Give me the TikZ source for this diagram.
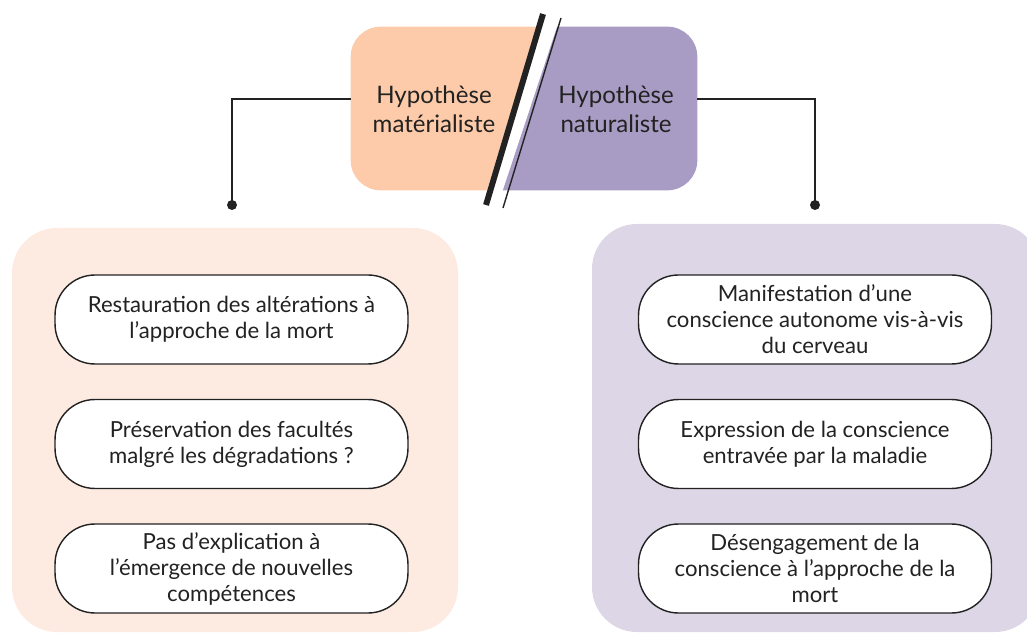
\documentclass[tikz,border=0pt]{standalone}
\usepackage{fontspec}
\setmainfont{Lato}
\usetikzlibrary{positioning}

\definecolor{matorange}{HTML}{FDCBA9}
\definecolor{natpurple}{HTML}{A89CC4}
\definecolor{matlight}{HTML}{FDEBE1}
\definecolor{natlight}{HTML}{DDD6E7}
\definecolor{ink}{HTML}{222222}

\tikzset{
  item/.style={draw=ink, line width=0.8pt, fill=white, rounded corners=0.8cm,
    minimum width=7.06cm, minimum height=1.78cm, align=center, text=ink,
    font=\fontsize{12.6}{14.8}\selectfont},
  head/.style={align=center, text=ink, font=\fontsize{13.7}{16.5}\selectfont},
  dot/.style={circle, fill=ink, inner sep=0pt, minimum size=0.2cm},
  link/.style={draw=ink, line width=1.1pt}
}

\begin{document}
\begin{tikzpicture}[x=0.02cm,y=-0.02cm]
\useasboundingbox (0,0) rectangle (1027,634);
% panels
\fill[matlight, rounded corners=0.9cm] (12,228) rectangle (458,632);
\fill[natlight, rounded corners=0.9cm] (592,224) rectangle (1040,632);
% header box
\node[minimum width=6.92cm, minimum height=3.26cm] (hyp) at (524,108.5) {};
\begin{scope}
  \clip (300,0) -- (545,0) -- (478,220) -- (300,220) -- cycle;
  \fill[matorange, rounded corners=0.6cm] (hyp.north west) rectangle (hyp.south east);
\end{scope}
\begin{scope}
  \clip (566,0) -- (750,0) -- (750,220) -- (493,220) -- cycle;
  \fill[natpurple, rounded corners=0.6cm] (hyp.north west) rectangle (hyp.south east);
\end{scope}
\draw[ink, line width=3.4pt] (543,14) -- (486,205);
\draw[ink, line width=0.8pt] (561,18) -- (503,208);
\node[head] (mat) at (434,109) {Hypothèse\\matérialiste};
\node[head] (nat) at (616,109) {Hypothèse\\naturaliste};
% connectors
\node[dot] (dotL) at (232,205) {};
\node[dot] (dotR) at (815,205) {};
\draw[link] ([yshift=0.19cm]hyp.west) -| (dotL.center);
\draw[link] ([yshift=0.19cm]hyp.east) -| (dotR.center);
% left column
\node[item] (m1) at (231.5,319.5) {Restauration des altérations à\\l’approche de la mort};
\node[item] (m2) at (231.5,444) {Préservation des facultés\\malgré les dégradations ?};
\node[item] (m3) at (231.5,568.5) {Pas d’explication à\\l’émergence de nouvelles\\compétences};
% right column
\node[item] (n1) at (815,319.5) {Manifestation d’une\\conscience autonome vis-à-vis\\du cerveau};
\node[item] (n2) at (815,444) {Expression de la conscience\\entravée par la maladie};
\node[item] (n3) at (815,568.5) {Désengagement de la\\conscience à l’approche de la\\mort};
\end{tikzpicture}
\end{document}
